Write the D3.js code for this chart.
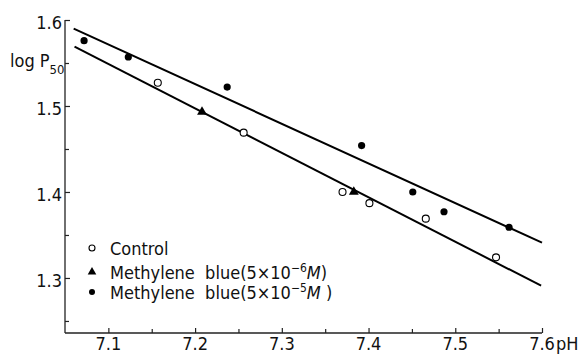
<!DOCTYPE html>
<html>
<head>
<meta charset="utf-8">
<script src="https://cdn.jsdelivr.net/npm/d3@7"></script>
<style>
  body { margin: 0; background: #fff; }
  text { font-family: "Liberation Sans Narrow", "DejaVu Sans Condensed", sans-serif; fill: #111; }
</style>
</head>
<body>
<script>
// values
const controlPH = [7.157, 7.256, 7.370, 7.401, 7.466, 7.547]
const controlLogP = [1.527, 1.469, 1.400, 1.387, 1.369, 1.324]

const mb6PH = [7.208, 7.383]
const mb6LogP = [1.493, 1.400]

const mb5PH = [7.072, 7.123, 7.237, 7.392, 7.451, 7.487, 7.562]
const mb5LogP = [1.576, 1.557, 1.522, 1.454, 1.400, 1.377, 1.359]

// regression lines (end points)
const upperLinePH = [7.06, 7.6]
const upperLineLogP = [1.590, 1.341]
const lowerLinePH = [7.061, 7.599]
const lowerLogP = [1.569, 1.291]

const xMajor = [7.1, 7.2, 7.3, 7.4, 7.5, 7.6]
const xMinor = [7.15, 7.25, 7.35, 7.45, 7.55]
const yMajor = [1.3, 1.4, 1.5, 1.6]
const yMinor = [1.25, 1.35, 1.45, 1.55]

const legendLabels = ['Control', 'Methylene  blue(5×10', 'Methylene  blue(5×10']
const legendExp = [null, '−6', '−5']

const width = 583
const height = 361

const svg = d3.select('body').append('svg')
  .attr('width', width)
  .attr('height', height)

const x = d3.scaleLinear().domain([7.05, 7.6]).range([65, 542])
const y = d3.scaleLinear().domain([1.236, 1.6]).range([333, 20])

const axisColor = '#222'

// axes frame
svg.append('line')
  .attr('x1', x(7.05)).attr('x2', x(7.6))
  .attr('y1', y(1.236)).attr('y2', y(1.236))
  .attr('stroke', axisColor).attr('stroke-width', 1.3)
svg.append('line')
  .attr('x1', x(7.05)).attr('x2', x(7.05))
  .attr('y1', y(1.236)).attr('y2', y(1.6))
  .attr('stroke', axisColor).attr('stroke-width', 1.3)

// ticks pointing inward
const xAxis = d3.axisTop(x).tickValues(xMajor).tickSize(5).tickFormat('')
svg.append('g').attr('transform', `translate(0,${y(1.236)})`).call(xAxis)
  .call((g) => g.select('.domain').remove())
svg.append('g').attr('transform', `translate(0,${y(1.236)})`)
  .call(d3.axisTop(x).tickValues(xMinor).tickSize(4).tickFormat(''))
  .call((g) => g.select('.domain').remove())

const yAxis = d3.axisRight(y).tickValues(yMajor).tickSize(5).tickFormat('')
svg.append('g').attr('transform', `translate(${x(7.05)},0)`).call(yAxis)
  .call((g) => g.select('.domain').remove())
svg.append('g').attr('transform', `translate(${x(7.05)},0)`)
  .call(d3.axisRight(y).tickValues(yMinor).tickSize(4).tickFormat(''))
  .call((g) => g.select('.domain').remove())

svg.selectAll('.tick line').attr('stroke', axisColor).attr('stroke-width', 1.2)

// tick labels
svg.selectAll('.xlab')
  .data(xMajor)
  .enter()
  .append('text')
  .attr('x', (d) => x(d))
  .attr('y', 350)
  .attr('text-anchor', 'middle')
  .attr('font-size', 18)
  .text((d) => d3.format('.1f')(d))

svg.append('text')
  .attr('x', x(7.6) + 14)
  .attr('y', 350)
  .attr('font-size', 18)
  .text('pH')

svg.selectAll('.ylab')
  .data(yMajor)
  .enter()
  .append('text')
  .attr('x', 62)
  .attr('y', (d) => y(d) + 9)
  .attr('text-anchor', 'end')
  .attr('font-size', 18)
  .text((d) => d3.format('.1f')(d))

const yTitle = svg.append('text')
  .attr('x', 10)
  .attr('y', 67)
  .attr('font-size', 18)
yTitle.append('tspan').text('log P')
yTitle.append('tspan').attr('dy', 7).attr('font-size', 13).text('50')

// regression lines
const line = d3.line().x((d) => x(d[0])).y((d) => y(d[1]))
svg.append('path')
  .attr('d', line(d3.zip(upperLinePH, upperLineLogP)))
  .attr('stroke', '#000').attr('stroke-width', 2).attr('fill', 'none')
svg.append('path')
  .attr('d', line(d3.zip(lowerLinePH, lowerLogP)))
  .attr('stroke', '#000').attr('stroke-width', 2).attr('fill', 'none')

// points
svg.selectAll('.mb5')
  .data(d3.zip(mb5PH, mb5LogP))
  .enter()
  .append('circle')
  .attr('cx', (d) => x(d[0]))
  .attr('cy', (d) => y(d[1]))
  .attr('r', 3.6)
  .attr('fill', '#000')

const tri = d3.symbol().type(d3.symbolTriangle).size(42)
svg.selectAll('.mb6')
  .data(d3.zip(mb6PH, mb6LogP))
  .enter()
  .append('path')
  .attr('d', tri)
  .attr('transform', (d) => `translate(${x(d[0])},${y(d[1])})`)
  .attr('fill', '#000')

svg.selectAll('.ctrl')
  .data(d3.zip(controlPH, controlLogP))
  .enter()
  .append('circle')
  .attr('cx', (d) => x(d[0]))
  .attr('cy', (d) => y(d[1]))
  .attr('r', 3.5)
  .attr('fill', '#fff')
  .attr('stroke', '#000')
  .attr('stroke-width', 1.1)

// legend
const legend = svg.append('g').attr('transform', 'translate(92,248)')
legend.append('circle').attr('cx', 0).attr('cy', 0).attr('r', 3).attr('fill', '#fff').attr('stroke', '#000').attr('stroke-width', 1.1)
legend.append('path').attr('d', d3.symbol().type(d3.symbolTriangle).size(32)).attr('transform', 'translate(0,24)').attr('fill', '#000')
legend.append('circle').attr('cx', 0).attr('cy', 44).attr('r', 3).attr('fill', '#000')

legendLabels.forEach((lab, i) => {
  const t = legend.append('text')
    .attr('x', 18)
    .attr('y', 7 + i * 24 - (i === 2 ? 4 : 0))
    .attr('font-size', 18)
    .attr('xml:space', 'preserve')
  t.append('tspan').text(lab)
  if (legendExp[i]) {
    t.append('tspan').attr('dy', -7).attr('font-size', 12).text(legendExp[i])
    t.append('tspan').attr('dy', 7).attr('font-style', 'italic').text('M')
    t.append('tspan').text(i === 2 ? ' )' : ')')
  }
})
</script>
</body>
</html>
